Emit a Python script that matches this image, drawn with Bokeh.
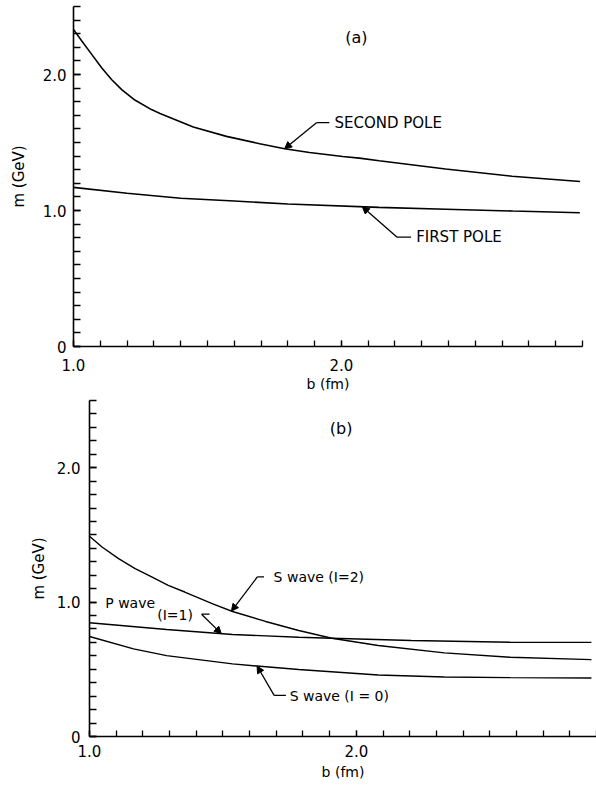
import numpy as np
from bokeh.plotting import figure
from bokeh.models import (Range1d, FixedTicker, Arrow, NormalHead, Label)
from bokeh.embed import file_html
from bokeh.resources import INLINE

# ---------------- data ----------------
# panel (a)
b_second = [1.0, 1.031, 1.068, 1.105, 1.142, 1.18, 1.229, 1.291, 1.323, 1.447,
            1.571, 1.695, 1.788, 1.881, 2.005, 2.067, 2.141, 2.389, 2.637, 2.891]
m_second = [2.332, 2.246, 2.148, 2.05, 1.963, 1.889, 1.812, 1.742, 1.714, 1.614,
            1.545, 1.491, 1.454, 1.427, 1.397, 1.385, 1.366, 1.305, 1.252, 1.213]
b_first = [1.0, 1.2, 1.4, 1.6, 1.8, 2.14, 2.39, 2.64, 2.89]
m_first = [1.17, 1.127, 1.09, 1.07, 1.048, 1.023, 1.009, 0.996, 0.984]

# panel (b)
b_s2 = [1.0, 1.047, 1.109, 1.171, 1.233, 1.295, 1.357, 1.462, 1.536, 1.66,
        1.784, 1.908, 2.082, 2.33, 2.577, 2.881]
m_s2 = [1.49, 1.41, 1.323, 1.249, 1.187, 1.125, 1.075, 0.987, 0.93, 0.856,
        0.789, 0.731, 0.677, 0.622, 0.59, 0.572]
b_p1 = [1.0, 1.289, 1.536, 1.784, 1.908, 2.206, 2.577, 2.881]
m_p1 = [0.846, 0.796, 0.759, 0.739, 0.731, 0.714, 0.701, 0.700]
b_s0 = [1.0, 1.165, 1.289, 1.536, 1.784, 2.082, 2.33, 2.577, 2.881]
m_s0 = [0.744, 0.652, 0.602, 0.54, 0.498, 0.458, 0.443, 0.438, 0.435]

x_major = [1.0, 2.0]
x_labels = {1: "1.0", 2: "2.0"}
y_major = [0, 1, 2]
y_labels = {0: "0", 1: "1.0", 2: "2.0"}

FONT = "DejaVu Sans"


def make_panel(fw, fh, left, right, top, bottom, ylab_standoff, ylab_axis_standoff,
               xlab_standoff, xlab_axis_standoff):
    p = figure(frame_width=fw, frame_height=fh, output_backend="svg",
               toolbar_location=None, x_range=Range1d(1.0, 2.9),
               y_range=Range1d(0, 2.5), min_border_left=left,
               min_border_right=right, min_border_top=top,
               min_border_bottom=bottom)
    p.outline_line_color = None
    p.xgrid.visible = False
    p.ygrid.visible = False
    p.background_fill_color = "white"
    p.border_fill_color = "white"

    minor_x = [round(1.0 + 0.1 * i, 2) for i in range(20)]
    minor_y = [round(0.1 * i, 2) for i in range(26)]
    p.xaxis.ticker = FixedTicker(ticks=x_major, minor_ticks=minor_x)
    p.yaxis.ticker = FixedTicker(ticks=y_major, minor_ticks=minor_y)
    p.xaxis.major_label_overrides = x_labels
    p.yaxis.major_label_overrides = y_labels

    for ax in (p.xaxis, p.yaxis):
        ax.axis_line_width = 1.6
        ax.axis_line_color = "black"
        ax.major_tick_line_color = "black"
        ax.minor_tick_line_color = "black"
        ax.major_tick_line_width = 1.3
        ax.minor_tick_line_width = 1.3
        ax.major_tick_out = 0
        ax.minor_tick_out = 0
        ax.major_label_text_font = FONT
        ax.major_label_text_font_size = "15px"
        ax.major_label_text_color = "black"
        ax.axis_label_text_font = FONT
        ax.axis_label_text_font_style = "normal"
        ax.axis_label_text_color = "black"
    p.xaxis.major_tick_in = 6
    p.xaxis.minor_tick_in = 6
    p.yaxis.major_tick_in = 7
    p.yaxis.minor_tick_in = 7
    p.xaxis.axis_label = "b (fm)"
    p.yaxis.axis_label = "m (GeV)"
    p.xaxis.axis_label_text_font_size = "14px"
    p.yaxis.axis_label_text_font_size = "15px"
    p.yaxis.major_label_standoff = ylab_standoff
    p.yaxis.axis_label_standoff = ylab_axis_standoff
    p.xaxis.major_label_standoff = xlab_standoff
    p.xaxis.axis_label_standoff = xlab_axis_standoff
    return p


def leader(p, elbow_x, elbow_y, end_x, tip_x, tip_y):
    p.line([elbow_x, end_x], [elbow_y, elbow_y], line_color="black", line_width=1.3)
    p.add_layout(Arrow(end=NormalHead(size=7, fill_color="black", line_color="black",
                                      line_width=1),
                       x_start=elbow_x, y_start=elbow_y, x_end=tip_x, y_end=tip_y,
                       line_color="black", line_width=1.3))


def label(p, x, y, text, size="14px", align="left"):
    p.add_layout(Label(x=x, y=y, text=text, text_font=FONT, text_font_size=size,
                       text_baseline="middle", text_align=align, text_color="black"))


# ---------------- panel (a) ----------------
pa = make_panel(509, 340, 73, 14, 6, 46, 7, 12, 12, 2)
pa.line(b_second, m_second, line_color="black", line_width=1.6)
pa.line(b_first, m_first, line_color="black", line_width=1.6)

tb = 1.788
leader(pa, 1.907, 1.646, 1.955, tb, float(np.interp(tb, b_second, m_second)))
label(pa, 1.974, 1.646, "SECOND POLE", "15px")
tb = 2.078
leader(pa, 2.208, 0.804, 2.26, tb, float(np.interp(tb, b_first, m_first)))
label(pa, 2.279, 0.804, "FIRST POLE", "15px")
label(pa, 2.056, 2.27, "(a)", "16px", "center")

# ---------------- panel (b) ----------------
pb = make_panel(507, 336, 89, 0, 6, 51, 9, 6, 8, 4)
pb.line(b_s2, m_s2, line_color="black", line_width=1.4)
pb.line(b_p1, m_p1, line_color="black", line_width=1.4)
pb.line(b_s0, m_s0, line_color="black", line_width=1.4)

tb = 1.532
leader(pb, 1.629, 1.187, 1.654, tb, float(np.interp(tb, b_s2, m_s2)))
label(pb, 1.69, 1.187, "S  wave (I=2)")
tb = 1.494
leader(pb, 1.42, 0.91, 1.45, tb, float(np.interp(tb, b_p1, m_p1)))
label(pb, 1.059, 0.99, "P wave")
label(pb, 1.254, 0.905, "(I=1)")
tb = 1.628
leader(pb, 1.692, 0.306, 1.736, tb, float(np.interp(tb, b_s0, m_s0)))
label(pb, 1.75, 0.30, "S  wave (I = 0)")
label(pb, 1.943, 2.29, "(b)", "16px", "center")

open("out.html", "w").write(file_html([pa, pb], INLINE))
